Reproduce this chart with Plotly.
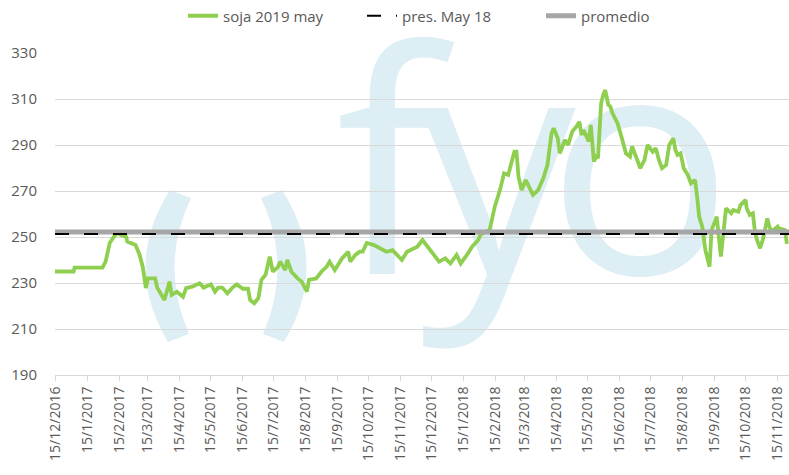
import plotly.graph_objects as go

# soja 2019 may, precio diario (USD/t)
dates = [
    "2016-12-15", "2017-01-02", "2017-01-03", "2017-01-30", "2017-02-02", "2017-02-06",
    "2017-02-10", "2017-02-13", "2017-02-17", "2017-02-22", "2017-02-23", "2017-03-03",
    "2017-03-07", "2017-03-10", "2017-03-13", "2017-03-15", "2017-03-22", "2017-03-24",
    "2017-03-31", "2017-04-03", "2017-04-05", "2017-04-07", "2017-04-12", "2017-04-18",
    "2017-04-21", "2017-04-27", "2017-05-04", "2017-05-08", "2017-05-15", "2017-05-19",
    "2017-05-22", "2017-05-26", "2017-05-31", "2017-06-05", "2017-06-09", "2017-06-15",
    "2017-06-20", "2017-06-22", "2017-06-26", "2017-06-30", "2017-07-03", "2017-07-07",
    "2017-07-11", "2017-07-14", "2017-07-19", "2017-07-21", "2017-07-26", "2017-07-28",
    "2017-08-01", "2017-08-07", "2017-08-11", "2017-08-16", "2017-08-18", "2017-08-25",
    "2017-08-30", "2017-09-04", "2017-09-07", "2017-09-12", "2017-09-19", "2017-09-25",
    "2017-09-27", "2017-10-02", "2017-10-06", "2017-10-09", "2017-10-13", "2017-10-20",
    "2017-10-26", "2017-11-01", "2017-11-07", "2017-11-10", "2017-11-16", "2017-11-21",
    "2017-11-27", "2017-12-01", "2017-12-06", "2017-12-11", "2017-12-15", "2017-12-22",
    "2017-12-28", "2018-01-02", "2018-01-08", "2018-01-12", "2018-01-18", "2018-01-23",
    "2018-01-29", "2018-01-31", "2018-02-05", "2018-02-09", "2018-02-14", "2018-02-19",
    "2018-02-23", "2018-02-27", "2018-03-05", "2018-03-07", "2018-03-09", "2018-03-12",
    "2018-03-16", "2018-03-20", "2018-03-23", "2018-03-28", "2018-04-02", "2018-04-06",
    "2018-04-10", "2018-04-12", "2018-04-16", "2018-04-18", "2018-04-23", "2018-04-26",
    "2018-04-30", "2018-05-04", "2018-05-07", "2018-05-09", "2018-05-11", "2018-05-16",
    "2018-05-18", "2018-05-21", "2018-05-23", "2018-05-25", "2018-05-28", "2018-05-30",
    "2018-06-01", "2018-06-04", "2018-06-06", "2018-06-08", "2018-06-13", "2018-06-18",
    "2018-06-21", "2018-06-25", "2018-06-27", "2018-07-02", "2018-07-05", "2018-07-09",
    "2018-07-12", "2018-07-17", "2018-07-20", "2018-07-23", "2018-07-26", "2018-07-30",
    "2018-08-02", "2018-08-06", "2018-08-08", "2018-08-10", "2018-08-13", "2018-08-16",
    "2018-08-20", "2018-08-23", "2018-08-27", "2018-08-29", "2018-08-31", "2018-09-03",
    "2018-09-06", "2018-09-10", "2018-09-12", "2018-09-17", "2018-09-19", "2018-09-21",
    "2018-09-26", "2018-10-01", "2018-10-03", "2018-10-08", "2018-10-10", "2018-10-15",
    "2018-10-16", "2018-10-19", "2018-10-22", "2018-10-24", "2018-10-26", "2018-10-29",
    "2018-11-01", "2018-11-05", "2018-11-07", "2018-11-09", "2018-11-15", "2018-11-16",
    "2018-11-22", "2018-11-24",
]
soja = [
    235.0, 235.0, 236.7, 236.7, 239.3, 247.4, 250.1, 251.7, 250.9, 250.0, 248.0, 246.5,
    242.2, 237.0, 227.8, 232.0, 232.0, 228.0, 222.6, 227.0, 230.6, 224.8, 226.2, 224.0,
    227.8, 228.4, 229.9, 228.0, 229.4, 226.2, 228.0, 228.0, 225.5, 228.0, 229.4, 227.5,
    227.5, 222.6, 221.2, 223.4, 231.4, 233.6, 241.5, 234.9, 237.0, 239.3, 235.6, 240.0,
    234.9, 232.0, 230.6, 226.2, 231.4, 232.0, 234.9, 237.0, 239.3, 235.6, 240.7, 243.6,
    239.3, 242.2, 243.6, 243.6, 247.4, 246.5,
    245.1, 243.6, 244.3, 242.9, 240.0, 243.6, 245.1, 245.8, 248.7, 245.8,
    242.9, 239.3, 240.7, 238.5, 242.2, 238.5, 242.2, 245.8, 248.7, 250.9,
    252.3, 253.0, 263.2, 270.4, 277.7, 277.0, 287.1, 287.1, 276.2, 270.4,
    274.8, 271.2, 268.3, 270.4, 275.5, 281.3, 295.1, 297.3, 292.9, 286.4,
    292.2, 290.0, 295.8, 298.0, 300.1, 294.4, 296.5, 291.5, 298.7, 282.8,
    285.0, 284.3, 308.1, 311.7, 313.9, 307.4, 306.7, 303.8, 299.4, 291.5,
    286.4, 285.0, 289.4, 283.5, 279.9, 283.5, 290.0, 287.1, 288.6, 283.5,
    279.9, 281.3, 290.0, 292.9, 287.8, 285.7, 286.4, 279.9, 277.0, 273.3,
    274.8, 267.5, 258.8, 254.5, 244.3, 237.1, 253.0, 258.8, 250.1, 241.5,
    262.5, 260.3, 261.7, 261.0, 263.9, 266.1, 262.5, 259.6, 260.3, 252.3,
    248.7, 245.1, 249.4, 258.1, 254.5, 252.3, 254.5, 253.8, 253.0, 247.0,
]

# reference levels
pres_may18 = 251.3
promedio = 252.2

x_start = "2016-12-15"
x_end = "2018-11-26"

GRID = "#D9D9D9"
TXT = "#595959"
WM = "#DDEEF4"
FONT = "Open Sans"

fig = go.Figure()

fig.add_trace(go.Scatter(
    x=dates, y=soja, mode="lines", name="soja 2019 may",
    line=dict(color="#8FCF4F", width=3.8), legendrank=1
))
fig.add_trace(go.Scatter(
    x=[x_start, x_end], y=[promedio, promedio], mode="lines", name="promedio",
    line=dict(color="#A6A6A6", width=5), legendrank=3
))
fig.add_trace(go.Scatter(
    x=[x_start, x_end], y=[pres_may18, pres_may18], mode="lines", name="pres. May 18",
    line=dict(color="#000000", width=2, dash="14px,15px"), legendrank=2
))

# watermark (logo) drawn under the gridlines
L, R, T, B = 55, 789, 53, 375
def fx(x):
    return (x - L) / (R - L)
def fy(y):
    return (B - y) / (B - T)
def px(x, y):
    return f"{fx(x):.4f},{fy(y):.4f}"

paren_l = [(170, 190), (122, 265), (168, 342), (189, 334), (159, 265), (191, 198)]
def paren_path(pts):
    a, b, c, d, e, f = pts
    return f"M {px(*a)} Q {px(*b)} {px(*c)} L {px(*d)} Q {px(*e)} {px(*f)} Z"

paren_r = [(452 - x, y) for x, y in paren_l]
shapes = []
for pts in (paren_l, paren_r):
    shapes.append(dict(type="path", xref="paper", yref="paper", path=paren_path(pts),
                       fillcolor=WM, line=dict(width=0), layer="below"))
for letter, cx in (("f", 388), ("y", 498), ("o", 640)):
    shapes.append(dict(
        type="rect", xref="paper", yref="paper",
        x0=fx(cx - 60), x1=fx(cx + 60), y0=fy(235), y1=fy(115),
        line=dict(width=0), fillcolor="rgba(0,0,0,0)", layer="below",
        label=dict(text=letter, font=dict(family=FONT, size=310, color=WM),
                   textposition="middle center")
    ))

fig.update_layout(
    width=789, height=475,
    margin=dict(l=L, r=789 - R, t=T, b=475 - B, autoexpand=False),
    paper_bgcolor="white", plot_bgcolor="rgba(0,0,0,0)",
    font=dict(family=FONT, size=15, color=TXT),
    shapes=shapes,
    showlegend=True,
    legend=dict(orientation="h", xref="container", yref="container",
                x=183 / 789, xanchor="left", y=1 - 16 / 475, yanchor="middle",
                font=dict(size=15, color=TXT), bgcolor="rgba(0,0,0,0)",
                entrywidth=134, entrywidthmode="pixels", tracegroupgap=0),
)

fig.update_xaxes(
    type="date", range=[x_start, x_end],
    tick0="2016-12-15", dtick="M1", tickformat="%d/%-m/%Y",
    tickangle=-90, showgrid=False,
    showline=True, linecolor=GRID, linewidth=1,
    ticks="outside", ticklen=5, tickcolor=GRID,
    tickfont=dict(size=14, color=TXT)
)
fig.update_yaxes(
    range=[190, 330], dtick=20, tick0=190,
    showgrid=True, gridcolor=GRID, gridwidth=1,
    zeroline=False, showline=False, ticks="",
    ticklabelstandoff=17,
    tickfont=dict(size=15, color=TXT)
)

fig.write_html("out.html", config={"displayModeBar": False},
               post_script="document.body.style.margin = '0';")
